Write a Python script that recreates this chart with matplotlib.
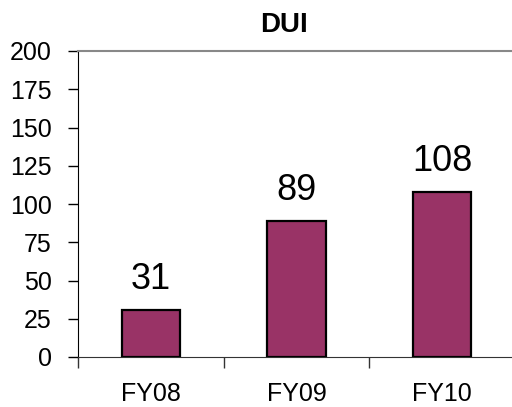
import matplotlib
matplotlib.use("Agg")
import matplotlib.pyplot as plt

categories = ["FY08", "FY09", "FY10"]
values = [31, 89, 108]
yticks = [0, 25, 50, 75, 100, 125, 150, 175, 200]

plt.rcParams["font.family"] = ["Liberation Sans", "DejaVu Sans"]

W, H = 512, 407
fig = plt.figure(figsize=(W / 100, H / 100), dpi=100)
ax = fig.add_axes([78 / W, 1 - 357 / H, (515 - 78) / W, (357 - 51) / H])

x = list(range(len(categories)))
bars = ax.bar(x, values, width=0.4, color="#993366", edgecolor="black", linewidth=1.6, zorder=3)

ax.set_xlim(-0.5, len(categories) - 0.5)
ax.set_ylim(0, 200)
ax.set_yticks(yticks)
ax.set_yticklabels([str(t) for t in yticks], fontsize=18)
ax.tick_params(axis="y", direction="out", length=7, width=1, pad=12, color="black")

# category boundaries carry the x tick marks; labels sit centred under bars
ax.set_xticks([i - 0.5 for i in range(len(categories) + 1)])
ax.set_xticklabels([""] * (len(categories) + 1))
ax.set_xticks(x, minor=True)
ax.set_xticklabels(categories, minor=True, fontsize=18)
ax.tick_params(axis="x", which="major", direction="out", length=8, width=1, color="#333333")
ax.tick_params(axis="x", which="minor", length=0, pad=18)

ax.spines["left"].set_color("black")
ax.spines["bottom"].set_color("#333333")
ax.spines["top"].set_color("#888888")
ax.spines["top"].set_linewidth(1.5)
ax.spines["right"].set_visible(False)

for b, v in zip(bars, values):
    ax.annotate(str(v), (b.get_x() + b.get_width() / 2, v), xytext=(0, 9),
                textcoords="offset points", ha="center", va="bottom", fontsize=26)

fig.text(284 / W, 1 - 32 / H, "DUI", ha="center", va="baseline", fontsize=20, fontweight="bold")

fig.savefig("out.png", dpi=100)
